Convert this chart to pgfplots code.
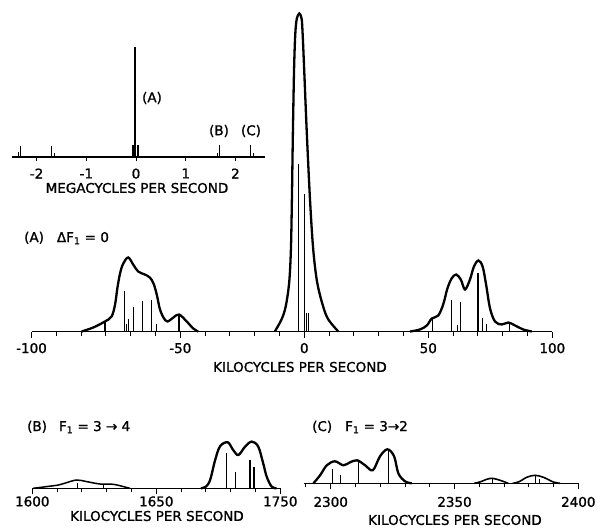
\documentclass[border=0pt]{standalone}
\usepackage{fontspec}
\setmainfont{DejaVu Sans}[FakeBold=1.2]
\usepackage{pgfplots}
\pgfplotsset{compat=1.18}
\newcommand\fs{\fontsize{13.5}{16}\selectfont}
\pgfplotsset{
  spec/.style={
    scale only axis, clip=false, enlargelimits=false, ymin=0,
    axis x line=bottom, axis y line=none,
    x axis line style={-, line width=1.1pt},
    tick align=outside,
    major tick length=6pt, minor tick length=4pt,
    tick style={black, line width=1pt},
    tick label style={font=\fs},
    anchor=south west,
  },
  curve/.style={black, line width=2.3pt, smooth, tension=0.55, mark=none},
  stick/.style={black, line width=1.2pt, ycomb, mark=none},
}
\begin{document}
\begin{tikzpicture}[x=1pt,y=1pt]
\useasboundingbox (0,0) rectangle (597,-529);

% inset: megacycles
\begin{axis}[spec, at={(11.75pt,-157pt)}, width=253.5pt, height=115pt,
  xmin=-2.5, xmax=2.6, ymax=115, major tick length=4pt,
  xtick={-2,-1,0,1,2}, xticklabels={-2,-1,0,1,2},
  xticklabel style={yshift=-4pt}]
\addplot[stick, line width=1.3pt] coordinates {(-0.02,110)};
\addplot[stick, line width=0.8pt] coordinates {(-2.37,5) (-2.32,11) (-1.70,11) (-1.65,4)
  (-0.075,12) (-0.045,12) (0.03,12) (0.055,12) (1.63,4) (1.68,12) (2.31,12) (2.36,4)};
\end{axis}

% (A) dF1 = 0
\begin{axis}[spec, at={(31.5pt,-331.5pt)}, width=520.8pt, height=320pt,
  xmin=-110, xmax=100, ymax=320,
  xtick={-110,-50,0,50,100}, xticklabels={-100,-50,0,50,100},
  minor xtick={-100,-90,-80,-70,-60,-40,-30,-20,-10,10,20,30,40,60,70,80,90},
  xticklabel style={yshift=-2pt}]
\addplot[curve] coordinates {(-89.8,0) (-85.1,4) (-80.4,10) (-77.7,15) (-76.3,27)
  (-75.4,43) (-74.3,58) (-73.0,68) (-71.0,74) (-69.0,67) (-67.0,60) (-64.3,57)
  (-62.3,54) (-60.8,48) (-59.5,37) (-58.3,23) (-56.8,14) (-55.2,10) (-52.8,14)
  (-50.5,17) (-47.4,10) (-44.8,3) (-42.8,0)};
\addplot[stick] coordinates {(-80.4,10) (-72.6,40) (-71.6,8) (-70.8,13) (-69.0,24)
  (-65.2,30) (-61.5,31) (-59.5,8) (-50.5,17)};
\addplot[curve] coordinates {(-11.9,0) (-9.2,12) (-7.5,25) (-6.1,49) (-5.4,82)
  (-5.0,132) (-4.6,199) (-4.1,265) (-3.6,299) (-3.0,313) (-2.0,318) (-1.1,313)
  (-0.7,299) (-0.1,265) (1.0,199) (2.3,132) (3.6,82) (5.2,49) (7.6,25) (9.7,12) (13.7,0)};
\addplot[stick] coordinates {(-2.2,167) (0,137)};
\addplot[stick, line width=0.6pt] coordinates {(0.9,19) (1.5,19)};
\addplot[curve] coordinates {(42.6,0) (46.6,2) (49.4,6) (51.4,13) (54.0,16) (56.0,27)
  (57.7,43) (59.4,53) (61.2,57) (63.1,52) (64.8,42) (66.8,52) (68.4,65) (70.2,71)
  (71.9,65) (73.3,47) (74.9,23) (76.9,10) (79.6,7) (82.3,9) (85.0,6) (88.3,2) (91.7,0)};
\addplot[stick] coordinates {(51.6,13) (59.4,31) (61.8,7) (62.9,29) (70.0,58)
  (71.7,14) (73.6,8) (82.6,9)};
\end{axis}

% (B) F1 = 3 -> 4
\begin{axis}[spec, at={(32.3pt,-488.3pt)}, width=248pt, height=50pt,
  xmin=1600, xmax=1700, ymax=50,
  xtick={1600,1650,1700}, xticklabels={1600,1650,1750},
  minor xtick={1610,1620,1630,1640,1660,1670,1680,1690},
  xticklabel style={yshift=1.5pt}]
\addplot[curve, line width=1.5pt] coordinates {(1600.4,0) (1605.8,1.7) (1610.5,3.3)
  (1613.9,5.7) (1617.9,8.3) (1621.9,6.7) (1627.3,4.3) (1632.7,4) (1636.7,1.7) (1639.4,0)};
\addplot[stick, line width=0.8pt] coordinates {(1618.1,5) (1628.6,3)};
\addplot[curve] coordinates {(1668,0) (1670.0,1.7) (1671.7,8.3) (1673.7,28)
  (1675.7,42) (1678.8,46) (1681.0,38.3) (1683.1,33.3) (1685.8,41.7) (1688.5,46.7)
  (1691.1,41.7) (1693.1,25) (1694.5,11.7) (1696.5,1.7) (1698.5,0)};
\addplot[stick] coordinates {(1678.4,35) (1682.0,16.7) (1687.8,28.3) (1689.4,21.7)};
\end{axis}

% (C) F1 = 3 -> 2
\begin{axis}[spec, at={(303.5pt,-483.3pt)}, width=274.8pt, height=36pt,
  xmin=2289, xmax=2400, ymax=36,
  xtick={2300,2350,2400}, xticklabels={2300,2350,2400},
  minor xtick={2290,2310,2320,2330,2340,2360,2370,2380,2390},
  xticklabel style={yshift=-4pt}]
\addplot[curve] coordinates {(2293,0) (2295.7,8) (2298.4,18) (2301.7,22) (2305.1,18)
  (2307.8,21) (2310.7,23) (2313.9,18) (2317,13) (2319.9,27) (2322.9,34) (2325.6,27)
  (2327.3,10) (2330,2) (2332.7,0)};
\addplot[stick] coordinates {(2300.6,14) (2303.8,8) (2311.1,23) (2323.3,33)};
\addplot[curve, line width=1.6pt] coordinates {(2358,0) (2360.5,1.5) (2363,4) (2365.3,5)
  (2368.4,3) (2371.7,0)};
\addplot[curve, line width=1.6pt] coordinates {(2373.5,0) (2376,1.5) (2379.2,6)
  (2382.5,8) (2385.9,6) (2389.9,1.3) (2392.6,0)};
\addplot[stick, line width=0.8pt] coordinates {(2365.3,4) (2382.5,7) (2384.2,4)};
\end{axis}

\begin{scope}[every node/.style={font=\fs, inner sep=0pt}]
\node at (152,-98) {(A)};
\node at (219,-131) {(B)};
\node at (251,-131) {(C)};
\node at (137,-188) {MEGACYCLES PER SECOND};
\node[anchor=west] at (24,-238) {(A)\hspace{13pt}ΔF\textsubscript{1} = 0};
\node at (300,-367) {KILOCYCLES PER SECOND};
\node[anchor=west] at (27,-427) {(B)\hspace{12pt}F\textsubscript{1} = 3 → 4};
\node at (157,-516) {KILOCYCLES PER SECOND};
\node[anchor=west] at (312,-427) {(C)\hspace{13pt}F\textsubscript{1} = 3→2};
\node at (455,-520) {KILOCYCLES PER SECOND};
\end{scope}
\end{tikzpicture}
\end{document}
